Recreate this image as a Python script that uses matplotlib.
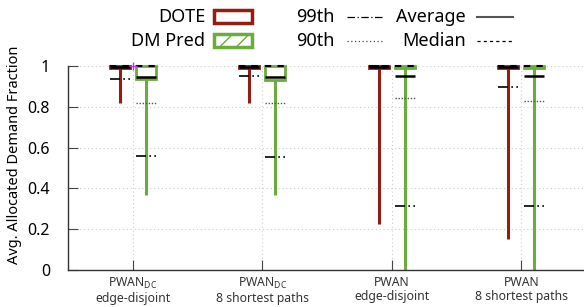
import numpy as np
import matplotlib
matplotlib.use('Agg')
import matplotlib.pyplot as plt
from matplotlib.patches import Rectangle
from matplotlib.lines import Line2D

plt.rcParams['font.family'] = ['Noto Sans', 'DejaVu Sans']
plt.rcParams['mathtext.fontset'] = 'custom'
plt.rcParams['mathtext.rm'] = 'Noto Sans'

# data
categories = [r'PWAN$_{\mathregular{DC}}$' + '\nedge-disjoint',
              r'PWAN$_{\mathregular{DC}}$' + '\n8 shortest paths',
              'PWAN\nedge-disjoint',
              'PWAN\n8 shortest paths']

dote_box_lo = [0.99, 0.99, 0.99, 0.99]
dote_box_hi = [1.0, 1.0, 1.0, 1.0]
dote_min = [0.82, 0.817, 0.225, 0.152]
dote_p99 = [0.938, 0.952, 1.0, 0.899]
dote_p90 = [1.0, 1.0, 1.0, 1.0]
dote_avg = [0.996, 0.996, 0.996, 0.995]
dote_med = [1.0, 1.0, 1.0, 1.0]

dm_box_lo = [0.936, 0.933, 0.99, 0.99]
dm_box_hi = [1.0, 1.0, 1.0, 1.0]
dm_min = [0.37, 0.368, 0.0, 0.0]
dm_p99 = [0.56, 0.556, 0.315, 0.315]
dm_p90 = [0.82, 0.82, 0.842, 0.83]
dm_avg = [0.946, 0.946, 0.952, 0.951]
dm_med = [1.0, 1.0, 1.0, 1.0]

stray_x = [1]
stray_y = [1.0]

red = '#941d12'
green = '#6aad3d'
W, H = 584, 307

fig = plt.figure(figsize=(W / 100, H / 100), dpi=100)
ax = fig.add_axes([68 / W, 37 / H, (586 - 68) / W, 204 / H])

x = np.arange(1, len(categories) + 1)
off = 0.1
bw = 0.155


def draw(xs, lo, hi, mn, p99, p90, avg, med, color, hatch):
    ax.vlines(xs, mn, lo, color=color, lw=2.2, zorder=2, clip_on=False)
    ax.bar(xs, np.array(hi) - np.array(lo), bottom=lo, width=bw,
           facecolor='white', edgecolor=color, lw=2, hatch=hatch,
           zorder=3, clip_on=False)
    l, r = xs - bw / 2, xs + bw / 2
    ax.hlines(p90, l, r, color='#555555', lw=1, linestyles=(0, (1, 1.2)), zorder=4, clip_on=False)
    ax.hlines(p99, l, r, color='black', lw=1.2, linestyles=(0, (6, 2, 1, 2)), zorder=4, clip_on=False)
    ax.hlines(avg, l, r, color='black', lw=1.8, zorder=4, clip_on=False)
    ax.hlines(med, l, r, color='black', lw=1.5, linestyles=(0, (3, 3)), zorder=5, clip_on=False)


draw(x - off, dote_box_lo, dote_box_hi, dote_min, dote_p99, dote_p90, dote_avg, dote_med, red, None)
draw(x + off, dm_box_lo, dm_box_hi, dm_min, dm_p99, dm_p90, dm_avg, dm_med, green, '/')

ax.plot(stray_x, stray_y, marker='+', color='#c03ce0', ms=6, mew=1, ls='none', zorder=6, clip_on=False)

ax.set_xlim(0.5, 4.5)
ax.set_ylim(0, 1)
ax.set_yticks([0, 0.2, 0.4, 0.6, 0.8, 1])
ax.set_yticklabels(['0', '0.2', '0.4', '0.6', '0.8', '1'], fontsize=11.5)
ax.set_xticks(x)
ax.set_xticklabels(categories, fontsize=8.8, linespacing=1.15, color='#333333')
ax.tick_params(axis='y', direction='in', length=7, pad=13, color='#444444')
ax.tick_params(axis='x', direction='in', length=7, pad=4, color='#444444')
ax.grid(True, color='#cccccc', lw=0.8, linestyle=(0, (1, 2.5)))
ax.set_axisbelow(True)
for s in ['top', 'right']:
    ax.spines[s].set_visible(False)
for s in ['left', 'bottom']:
    ax.spines[s].set_color('#333333')
    ax.spines[s].set_linewidth(1)

fig.text(15 / W, 1 - 155 / H, 'Avg. Allocated Demand Fraction', rotation=90,
         ha='center', va='center', fontsize=10.5)


# legend drawn in figure pixel space
def P(px, py):
    return (px / W, 1 - py / H)


tf = fig.transFigure
rows = [16.5, 40.5]
fig.text(*P(205, rows[0]), 'DOTE', ha='right', va='center', fontsize=13)
fig.text(*P(205, rows[1]), 'DM Pred', ha='right', va='center', fontsize=13)
fig.patches.append(Rectangle(P(214, rows[0] + 6), 38 / W, 12 / H, transform=tf,
                             facecolor='white', edgecolor=red, lw=2.5))
fig.patches.append(Rectangle(P(214, rows[1] + 6), 38 / W, 12 / H, transform=tf,
                             facecolor='white', edgecolor=green, lw=2.5, hatch='//'))

fig.text(*P(335, rows[0]), '99th', ha='right', va='center', fontsize=13)
fig.text(*P(335, rows[1]), '90th', ha='right', va='center', fontsize=13)
fig.lines.append(Line2D([347 / W, 383 / W], [1 - rows[0] / H] * 2, transform=tf,
                        color='black', lw=0.9, linestyle=(0, (6, 2, 1, 2))))
fig.lines.append(Line2D([347 / W, 383 / W], [1 - rows[1] / H] * 2, transform=tf,
                        color='#444444', lw=0.9, linestyle=(0, (1, 2))))

fig.text(*P(466, rows[0]), 'Average', ha='right', va='center', fontsize=13)
fig.text(*P(466, rows[1]), 'Median', ha='right', va='center', fontsize=13)
fig.lines.append(Line2D([477 / W, 513 / W], [1 - rows[0] / H] * 2, transform=tf,
                        color='#555555', lw=1.5))
fig.lines.append(Line2D([477 / W, 513 / W], [1 - rows[1] / H] * 2, transform=tf,
                        color='black', lw=0.9, linestyle=(0, (2.5, 2.5))))

plt.savefig('out.png', dpi=100)
